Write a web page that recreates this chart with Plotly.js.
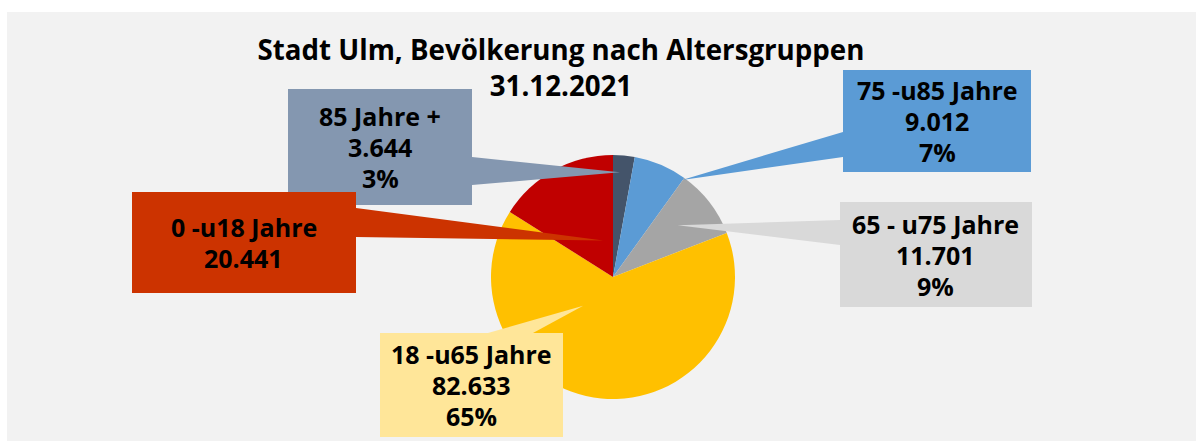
<!DOCTYPE html>
<html>
<head>
<meta charset="utf-8">
<script src="https://cdn.plot.ly/plotly-3.0.1.min.js"></script>
<style>html,body{margin:0;padding:0;background:#fff;}#chart{width:1203px;height:441px;}</style>
</head>
<body>
<div id="chart"></div>
<script>
// ---- data ----
const categories = ['85 Jahre +', '75 -u85 Jahre', '65 - u75 Jahre', '18 -u65 Jahre', '0 -u18 Jahre'];
const values = [3644, 9012, 11701, 82633, 20441];
const showPercent = [true, true, true, true, false];
const titleLines = ['Stadt Ulm, Bevölkerung nach Altersgruppen', '31.12.2021'];

// ---- styles / layout ----
const sliceColors = ['#44546a', '#5b9bd5', '#a5a5a5', '#ffc000', '#c00000'];
const boxColors = ['#8497b0', '#5b9bd5', '#d9d9d9', '#ffe699', '#cc3300'];
const W = 1203, H = 441;
const pie = {cx: 613, cy: 277, r: 122};
const boxFont = 25, boxLineGap = 31;
// callout boxes (pixels): x0,y0,x1,y1 ; pointer base points ; tip as angle(deg, clockwise from 12) & radius fraction
const callouts = [
  {box: [288, 89, 472, 205], base: [[472, 157], [472, 185]], tip: [3.8, 0.86]},
  {box: [843, 70, 1031, 172], base: [[843, 132], [843, 157]], tip: [35.4, 0.976]},
  {box: [840, 202, 1032, 307], base: [[840, 220], [840, 245]], tip: [51.3, 0.68]},
  {box: [380, 333, 563, 437], base: [[488, 333], [533, 333]], tip: [226, 0.34]},
  {box: [132, 192, 356, 293], base: [[356, 208], [356, 237]], tip: [344.9, 0.31]}
];
const drawOrder = [0, 4, 1, 2, 3];

const px = x => x / W;
const py = y => 1 - y / H;
const fmt = v => String(v).replace(/\B(?=(\d{3})+(?!\d))/g, '.');
const total = values.reduce((a, b) => a + b, 0);

const trace = {
  type: 'pie',
  values: values,
  labels: categories,
  sort: false,
  direction: 'clockwise',
  rotation: 0,
  textinfo: 'none',
  hoverinfo: 'label+value+percent',
  marker: {colors: sliceColors, line: {width: 0}},
  domain: {x: [px(pie.cx - pie.r), px(pie.cx + pie.r)], y: [py(pie.cy + pie.r), py(pie.cy - pie.r)]},
  showlegend: false
};

const shapes = [
  // white frame strips
  {type: 'rect', xref: 'paper', yref: 'paper', x0: 0, x1: 1, y0: py(12), y1: 1, fillcolor: '#ffffff', line: {width: 0}, layer: 'below'},
  {type: 'rect', xref: 'paper', yref: 'paper', x0: 0, x1: px(7), y0: 0, y1: 1, fillcolor: '#ffffff', line: {width: 0}, layer: 'below'},
  {type: 'rect', xref: 'paper', yref: 'paper', x0: px(1196), x1: 1, y0: 0, y1: 1, fillcolor: '#ffffff', line: {width: 0}, layer: 'below'}
];
const annotations = [];

drawOrder.forEach(i => {
  const c = callouts[i];
  const ang = c.tip[0] * Math.PI / 180;
  const tx = pie.cx + Math.sin(ang) * c.tip[1] * pie.r;
  const ty = pie.cy - Math.cos(ang) * c.tip[1] * pie.r;
  const p = 'M ' + px(c.base[0][0]) + ' ' + py(c.base[0][1]) + ' L ' + px(tx) + ' ' + py(ty) +
            ' L ' + px(c.base[1][0]) + ' ' + py(c.base[1][1]) + ' Z';
  shapes.push({type: 'path', xref: 'paper', yref: 'paper', path: p, fillcolor: boxColors[i], line: {width: 0}, layer: 'above'});
  shapes.push({type: 'rect', xref: 'paper', yref: 'paper', x0: px(c.box[0]), x1: px(c.box[2]), y0: py(c.box[3]), y1: py(c.box[1]),
               fillcolor: boxColors[i], line: {width: 0}, layer: 'above'});
  const lines = [categories[i], fmt(values[i])];
  if (showPercent[i]) lines.push(Math.round(values[i] / total * 100) + '%');
  const cxb = (c.box[0] + c.box[2]) / 2, cyb = (c.box[1] + c.box[3]) / 2;
  lines.forEach((t, k) => {
    const yy = cyb + (k - (lines.length - 1) / 2) * boxLineGap;
    annotations.push({
      xref: 'paper', yref: 'paper',
      x: px(cxb), y: py(yy),
      xanchor: 'center', yanchor: 'middle', showarrow: false, align: 'center',
      text: '<b>' + t + '</b>',
      font: {family: 'Open Sans, sans-serif', size: boxFont, color: '#000000'}
    });
  });
});

const layout = {
  width: W, height: H,
  margin: {l: 0, r: 0, t: 0, b: 0},
  paper_bgcolor: '#f2f2f2',
  title: {
    text: '<b>' + titleLines.join('<br>') + '</b>',
    font: {family: 'Open Sans, sans-serif', size: 27.7, color: '#000000'},
    x: px(561), xanchor: 'center', xref: 'paper',
    y: py(60), yanchor: 'top', yref: 'paper'
  },
  shapes: shapes,
  annotations: annotations
};

Plotly.newPlot('chart', [trace], layout, {displayModeBar: false, staticPlot: true});
</script>
</body>
</html>
